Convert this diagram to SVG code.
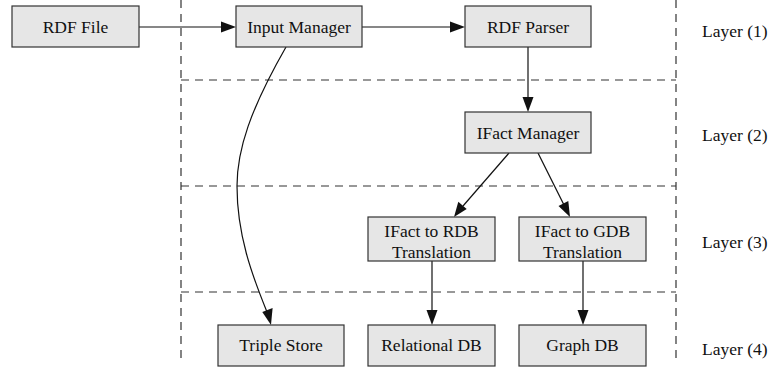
<svg xmlns="http://www.w3.org/2000/svg" width="770" height="367" viewBox="0 0 770 367">
<defs>
<style>
.box{fill:#e6e6e6;stroke:#333;stroke-width:1.2}
.t{font-family:'Liberation Serif','DejaVu Serif','Times New Roman',Times,serif;font-size:17.5px;fill:#111;text-anchor:middle}
.l{font-family:'Liberation Serif','DejaVu Serif','Times New Roman',Times,serif;font-size:17.5px;fill:#111}
.d{stroke:#333;stroke-width:1.2;stroke-dasharray:8,6;fill:none}
.e{stroke:#111;stroke-width:1.2;fill:none}
.ah{fill:#111;stroke:none}
</style>
</defs>
<rect width="770" height="367" fill="#fff"/>
<g id="layers">
<line class="d" x1="181" y1="0" x2="181" y2="364"/>
<line class="d" x1="676" y1="0" x2="676" y2="364"/>
<line class="d" x1="181" y1="80" x2="676" y2="80"/>
<line class="d" x1="181" y1="186" x2="676" y2="186"/>
<line class="d" x1="181" y1="292" x2="676" y2="292"/>
<text class="l" x="702" y="37">Layer (1)</text>
<text class="l" x="702" y="141">Layer (2)</text>
<text class="l" x="702" y="248">Layer (3)</text>
<text class="l" x="702" y="355">Layer (4)</text>
</g>
<g id="connectors">
<line class="e" x1="139" y1="27" x2="222" y2="27"/>
<polygon class="ah" points="236,27 221,21.5 221,32.5"/>
<line class="e" x1="362" y1="27" x2="451" y2="27"/>
<polygon class="ah" points="465,27 450,21.5 450,32.5"/>
<line class="e" x1="528" y1="47" x2="528" y2="98"/>
<polygon class="ah" points="528,112 522.5,97 533.5,97"/>
<line class="e" x1="509" y1="153" x2="463" y2="206"/>
<polygon class="ah" points="454,217 458.3,201.7 466.7,208.9"/>
<line class="e" x1="538" y1="153" x2="564" y2="205"/>
<polygon class="ah" points="570,217 558.5,206 568.3,201"/>
<path class="e" d="M286,47 C250,110 237,150 237,186 C237,235 252,275 267,312"/>
<polygon class="ah" points="271,325 262.3,311.9 272.6,308"/>
<line class="e" x1="432" y1="261" x2="432" y2="311"/>
<polygon class="ah" points="432,325 426.5,310 437.5,310"/>
<line class="e" x1="583" y1="261" x2="583" y2="311"/>
<polygon class="ah" points="583,325 577.5,310 588.5,310"/>
</g>
<g id="rdf-file"><rect class="box" x="12" y="6" width="127" height="41"/><text class="t" x="75.5" y="33">RDF File</text></g>
<g id="input-manager"><rect class="box" x="236" y="6" width="126" height="41"/><text class="t" x="299" y="33">Input Manager</text></g>
<g id="rdf-parser"><rect class="box" x="465" y="6" width="126" height="41"/><text class="t" x="528" y="33">RDF Parser</text></g>
<g id="ifact-manager"><rect class="box" x="465" y="112" width="126" height="41"/><text class="t" x="528" y="139">IFact Manager</text></g>
<g id="ifact-rdb"><rect class="box" x="368" y="217" width="127" height="44"/><text class="t" x="431.5" y="237">IFact to RDB</text><text class="t" x="431.5" y="258">Translation</text></g>
<g id="ifact-gdb"><rect class="box" x="519" y="217" width="127" height="44"/><text class="t" x="582.5" y="237">IFact to GDB</text><text class="t" x="582.5" y="258">Translation</text></g>
<g id="triple-store"><rect class="box" x="218" y="325" width="126" height="41"/><text class="t" x="281" y="351">Triple Store</text></g>
<g id="relational-db"><rect class="box" x="368" y="325" width="127" height="41"/><text class="t" x="431.5" y="351">Relational DB</text></g>
<g id="graph-db"><rect class="box" x="519" y="325" width="127" height="41"/><text class="t" x="582.5" y="351">Graph DB</text></g>
</svg>
